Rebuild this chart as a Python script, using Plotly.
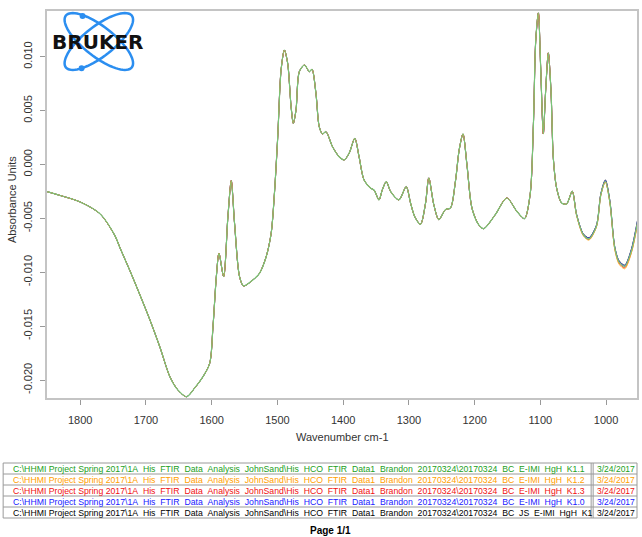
import numpy as np
import plotly.graph_objects as go

# ---------------- data ----------------
wavenumber = [1850.5, 1830.3, 1800.0, 1769.7, 1747.0, 1739.4, 1724.2, 1709.1, 1693.9, 1678.8,
              1663.6, 1651.5, 1638.3, 1625.8, 1613.2, 1603.0, 1598.0, 1592.9, 1588.9, 1581.8,
              1575.3, 1570.2, 1565.2, 1557.6, 1551.5, 1537.4, 1527.3, 1517.1, 1509.5, 1504.5,
              1499.5, 1494.4, 1489.4, 1484.4, 1479.2, 1475.8, 1471.7, 1466.7, 1459.1, 1456.5,
              1451.5, 1447.4, 1441.4, 1436.4, 1431.4, 1426.2, 1416.2, 1406.1, 1398.5, 1390.9,
              1382.3, 1375.8, 1368.2, 1358.0, 1353.0, 1345.5, 1340.5, 1334.4, 1327.7, 1315.2,
              1304.1, 1297.4, 1290.9, 1282.3, 1274.7, 1269.7, 1262.1, 1254.5, 1244.4, 1236.8,
              1229.2, 1223.5, 1217.7, 1211.7, 1204.1, 1193.9, 1186.4, 1168.6, 1151.1, 1135.9,
              1124.2, 1115.6, 1110.6, 1107.1, 1103.0, 1099.5, 1095.5, 1092.0, 1087.9, 1083.8,
              1080.3, 1075.3, 1067.7, 1060.2, 1051.5,
              1045.0, 1034.8, 1026.2, 1014.7, 1008.0, 1001.1, 994.4, 986.8, 980.3, 971.7, 961.7, 951.5]

shared_absorbance = [-0.00252, -0.00288, -0.00348, -0.00459, -0.00663, -0.00775, -0.00988, -0.01211, -0.01443, -0.01694,
                     -0.01969, -0.02092, -0.02155, -0.02074, -0.01969, -0.01845, -0.01505, -0.01041, -0.00824, -0.01041,
                     -0.00484, -0.00150, -0.00546, -0.01041, -0.01127, -0.01072, -0.01010, -0.00856, -0.00638, -0.00267,
                     0.00258, 0.00877, 0.01062, 0.00939, 0.00536, 0.00382, 0.00506, 0.00861, 0.00923, 0.00907,
                     0.00861, 0.00883, 0.00661, 0.00351, 0.00283, 0.00304, 0.00165, 0.00072, 0.00042, 0.00104,
                     0.00243, 0.00072, -0.00144, -0.00221, -0.00237, -0.00329, -0.00237, -0.00160, -0.00252, -0.00329,
                     -0.00206, -0.00360, -0.00487, -0.00555, -0.00360, -0.00125, -0.00373, -0.00512, -0.00419, -0.00404,
                     -0.00156, 0.00135, 0.00283, -0.00002, -0.00404, -0.00559, -0.00596, -0.00466, -0.00311, -0.00434,
                     -0.00503, -0.00280, 0.00369, 0.01143, 0.01406, 0.00895, 0.00283, 0.00679, 0.01035, 0.00679,
                     0.00060, -0.00218, -0.00357, -0.00367, -0.00249]

tail_k1_1 = [-0.00466, -0.00651, -0.00691, -0.00573, -0.00280, -0.00156, -0.00341, -0.00775, -0.00905, -0.00945, -0.00805, -0.00512]
tail_k1_2 = [-0.00470, -0.00660, -0.00702, -0.00580, -0.00285, -0.00162, -0.00350, -0.00790, -0.00925, -0.00968, -0.00825, -0.00530]
tail_k1_3 = [-0.00468, -0.00656, -0.00697, -0.00578, -0.00283, -0.00160, -0.00346, -0.00783, -0.00915, -0.00958, -0.00818, -0.00522]
tail_k1_0 = [-0.00462, -0.00646, -0.00684, -0.00566, -0.00274, -0.00148, -0.00334, -0.00768, -0.00898, -0.00938, -0.00795, -0.00500]
tail_k1 = [-0.00460, -0.00643, -0.00680, -0.00563, -0.00270, -0.00144, -0.00330, -0.00765, -0.00893, -0.00934, -0.00790, -0.00495]

file_prefix = "C:\\HHMI Project Spring 2017\\1A\u00a0\u00a0His\u00a0\u00a0FTIR\u00a0\u00a0Data\u00a0\u00a0Analysis\u00a0\u00a0JohnSand\\His\u00a0\u00a0HCO\u00a0\u00a0FTIR\u00a0\u00a0Data1\u00a0\u00a0Brandon\u00a0\u00a020170324\\20170324\u00a0\u00a0BC\u00a0\u00a0"
sample_names = ["E-IMI\u00a0\u00a0HgH\u00a0\u00a0K1.1", "E-IMI\u00a0\u00a0HgH\u00a0\u00a0K1.2", "E-IMI\u00a0\u00a0HgH\u00a0\u00a0K1.3",
                "E-IMI\u00a0\u00a0HgH\u00a0\u00a0K1.0", "JS\u00a0\u00a0E-IMI\u00a0\u00a0HgH\u00a0\u00a0K1"]
sample_dates = ["3/24/2017"] * 5
sample_tails = [tail_k1_1, tail_k1_2, tail_k1_3, tail_k1_0, tail_k1]
text_colors = ["#22a022", "#ffa000", "#f01010", "#2020ff", "#000000"]
line_colors = ["#78c478", "#ffb030", "#f03030", "#4040ff", "#202020"]

x_tick_vals = [1800, 1700, 1600, 1500, 1400, 1300, 1200, 1100, 1000]
y_tick_vals = [0.010, 0.005, 0.000, -0.005, -0.010, -0.015, -0.020]
y_tick_text = ["0.010", "0.005", "0.000", "-0.005", "-0.010", "-0.015", "-0.020"]

# ---------------- layout geometry ----------------
W, H = 642, 537
ML, MR, MT, MB = 47, 3, 11, 139
PW, PH = W - ML - MR, H - MT - MB


def fx(px):
    return (px - ML) / PW


def fy(py):
    return (H - MB - py) / PH


FONT = "Liberation Sans, Arial, sans-serif"

fig = go.Figure()

# draw order: black, blue, red, orange, green on top
for idx in [4, 3, 2, 1, 0]:
    fig.add_trace(go.Scatter(
        x=wavenumber,
        y=shared_absorbance + sample_tails[idx],
        mode="lines",
        line=dict(color=line_colors[idx], width=1.2 if idx == 0 else 1, shape="spline", smoothing=0.8),
        showlegend=False,
        hoverinfo="skip",
    ))

shapes = []
annotations = []

# ---- Bruker logo ----
cx, cy, a, b = 99, 41.5, 42, 15
t = np.linspace(0, 2 * np.pi, 73)
for ang in (38, -38):
    th = np.radians(ang)
    xs = cx + a * np.cos(t) * np.cos(th) - b * np.sin(t) * np.sin(th)
    ys = cy + a * np.cos(t) * np.sin(th) + b * np.sin(t) * np.cos(th)
    path = "M " + " L ".join(f"{fx(x):.5f},{fy(y):.5f}" for x, y in zip(xs, ys)) + " Z"
    shapes.append(dict(type="path", path=path, xref="paper", yref="paper",
                       line=dict(color="#2b8ef0", width=2.5), layer="above"))
for (dx, dy) in [(82.7, 16), (81.7, 68.3)]:
    shapes.append(dict(type="circle", xref="paper", yref="paper",
                       x0=fx(dx - 3), x1=fx(dx + 3), y0=fy(dy + 3), y1=fy(dy - 3),
                       fillcolor="#2b8ef0", line=dict(width=0), layer="above"))
annotations.append(dict(text="<b>BRUKER</b>", x=fx(98), y=fy(42.3), xref="paper", yref="paper",
                        showarrow=False, xanchor="center", yanchor="middle",
                        font=dict(family="DejaVu Sans", size=20, color="#111")))

# ---- axis titles ----
annotations.append(dict(text="Wavenumber cm-1", x=fx(343), y=fy(437), xref="paper", yref="paper",
                        showarrow=False, xanchor="center", yanchor="middle",
                        font=dict(family=FONT, size=11, color="#333")))
annotations.append(dict(text="Absorbance Units", x=fx(12), y=fy(200), xref="paper", yref="paper",
                        showarrow=False, xanchor="center", yanchor="middle", textangle=-90,
                        font=dict(family=FONT, size=11, color="#333")))

# ---- table ----
tbl_top, row_h, tbl_left, tbl_right, div_x = 463, 11, 3, 639, 594
n = len(sample_names)
for i in range(n + 1):
    yy = tbl_top + row_h * i
    shapes.append(dict(type="line", xref="paper", yref="paper", x0=fx(tbl_left), x1=fx(tbl_right),
                       y0=fy(yy), y1=fy(yy), line=dict(color="#9a9a9a", width=1)))
for xx in (tbl_left, div_x - 1, div_x + 1, tbl_right):
    shapes.append(dict(type="line", xref="paper", yref="paper", x0=fx(xx), x1=fx(xx),
                       y0=fy(tbl_top), y1=fy(tbl_top + row_h * n), line=dict(color="#9a9a9a", width=1)))
for i in range(n):
    yc = tbl_top + row_h * i + 5.8
    annotations.append(dict(text=file_prefix + sample_names[i], x=fx(11), y=fy(yc), xref="paper", yref="paper",
                            showarrow=False, xanchor="left", yanchor="middle",
                            font=dict(family=FONT, size=8.7, color=text_colors[i])))
    annotations.append(dict(text=sample_dates[i], x=fx(597), y=fy(yc), xref="paper", yref="paper",
                            showarrow=False, xanchor="left", yanchor="middle",
                            font=dict(family=FONT, size=8.5, color=text_colors[i])))

annotations.append(dict(text="<b>Page 1/1</b>", x=fx(331), y=fy(530), xref="paper", yref="paper",
                        showarrow=False, xanchor="center", yanchor="middle",
                        font=dict(family=FONT, size=10, color="#000")))

fig.update_layout(
    width=W, height=H,
    margin=dict(l=ML, r=MR, t=MT, b=MB, pad=0),
    paper_bgcolor="white", plot_bgcolor="white",
    shapes=shapes, annotations=annotations,
    font=dict(family=FONT, size=11, color="#333"),
    xaxis=dict(range=[1850.5, 953], tickvals=x_tick_vals, ticks="outside", ticklen=5,
               tickcolor="#999", tickfont=dict(size=11, color="#333"),
               showline=True, mirror=True, linecolor="#c4c4c4", linewidth=1.5,
               showgrid=False, zeroline=False, ticklabelstandoff=6),
    yaxis=dict(range=[-0.02167, 0.01424], tickvals=y_tick_vals, ticktext=y_tick_text,
               ticks="outside", ticklen=5, tickcolor="#999", tickangle=-90,
               tickfont=dict(size=11, color="#333"),
               showline=True, mirror=True, linecolor="#c4c4c4", linewidth=1.5,
               showgrid=False, zeroline=False, ticklabelstandoff=4),
)

fig.write_html("out.html", config={"displayModeBar": False},
               post_script="document.body.style.margin='0px';document.body.style.overflow='hidden';")
